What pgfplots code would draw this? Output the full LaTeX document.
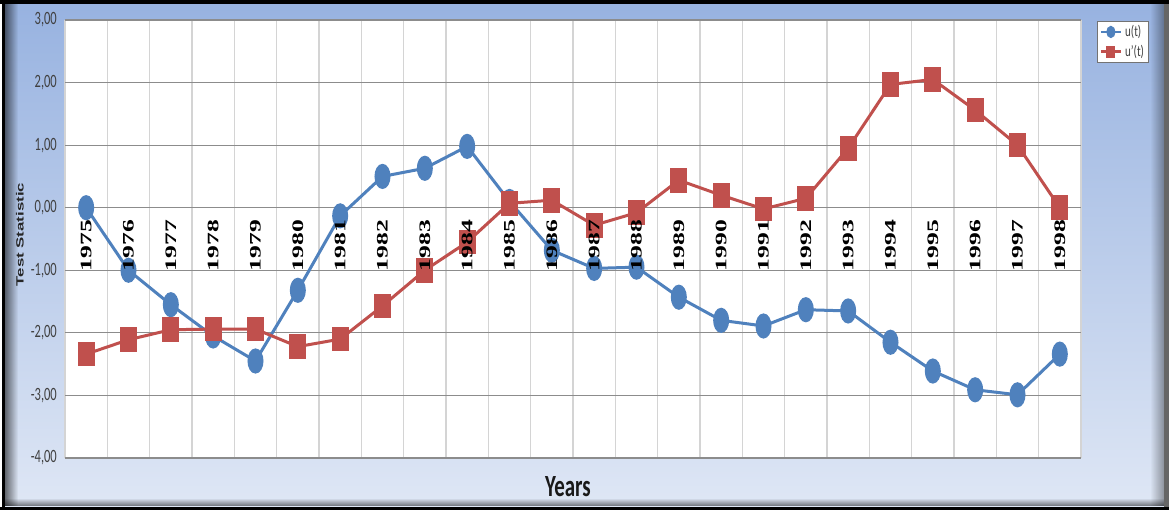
\documentclass[border=0pt]{standalone}
\usepackage{pgfplots}
\pgfplotsset{compat=1.18}
\usepackage{pgfplotstable}
\usepackage{graphicx}
\usepackage{fontspec}
\setmainfont{Carlito}
\newfontfamily\serifb{Liberation Serif}
\newfontfamily\arialf{Liberation Sans}

\definecolor{ublue}{HTML}{4F81BD}
\definecolor{ured}{HTML}{C0504D}
\definecolor{bgtop}{HTML}{97B2E0}
\definecolor{bgbot}{HTML}{DFE7F5}
\definecolor{tickgray}{HTML}{404040}
\definecolor{hgrid}{HTML}{8C8C8C}
\definecolor{vgrid}{HTML}{D4D4D4}

\newcommand\yr[1]{\scalebox{1.6}[1]{\fontsize{16}{16}\selectfont\serifb\bfseries #1}}
\newcommand\yl[1]{\scalebox{1}[1.5]{\fontsize{12.5}{13}\selectfont #1}}

\pgfplotsset{
  common/.style={
    scale only axis,
    width=1016pt, height=438pt,
    at={(65pt,52pt)}, anchor=south west,
    xmin=-0.5, xmax=23.5, ymin=-4, ymax=3,
    axis line style={draw=none},
    major tick length=0pt, minor tick length=0pt,
    clip=false,
  }
}

\pgfplotstableread{
x u up
0  0.00 -2.34
1 -1.00 -2.11
2 -1.55 -1.95
3 -2.05 -1.94
4 -2.45 -1.94
5 -1.32 -2.22
6 -0.13 -2.10
7  0.50 -1.57
8  0.63 -1.00
9  0.98 -0.55
10 0.10  0.07
11 -0.68 0.12
12 -0.97 -0.28
13 -0.95 -0.08
14 -1.43 0.44
15 -1.80 0.20
16 -1.89 -0.02
17 -1.63 0.15
18 -1.65 0.95
19 -2.15 1.97
20 -2.61 2.05
21 -2.91 1.56
22 -2.99 1.00
23 -2.34 0.00
}\datatable

\begin{document}
\begin{tikzpicture}
\shade[top color=bgtop, bottom color=bgbot] (0pt,0pt) rectangle (1169pt,510pt);
% frame and shadows
\foreach \i in {0,...,12}{
  \pgfmathsetmacro\op{0.55*(1-\i/13)}
  \fill[black, opacity=\op] ({(5+\i)*1pt},4pt) rectangle ({(6+\i)*1pt},506pt);
  \fill[black, opacity=\op*0.6] ({(1163-\i)*1pt},4pt) rectangle ({(1164-\i)*1pt},506pt);
}
\foreach \i in {0,...,6}{
  \pgfmathsetmacro\op{0.45*(1-\i/7)}
  \fill[black, opacity=\op] (5pt,{(4+\i)*1pt}) rectangle (1164pt,{(5+\i)*1pt});
}
\fill[white] (0pt,0pt) rectangle (2pt,510pt);
\fill[black] (2pt,0pt) rectangle (5pt,510pt);
\fill[black] (0pt,506pt) rectangle (1169pt,510pt);
\fill[black] (0pt,0pt) rectangle (1169pt,3pt);
\fill[black!60] (1164pt,3pt) rectangle (1169pt,506pt);

\begin{axis}[
  common,
  axis background/.style={fill=white},
  xtick={0,...,23},
  xticklabels={},
  minor xtick={-0.5,0.5,...,23.5},
  xminorgrids,
  minor grid style={draw=vgrid, line width=1.5pt},
  ytick={-4,-3,-2,-1,0,1,2,3},
  yticklabels={{\yl{-4,00}},{\yl{-3,00}},{\yl{-2,00}},{\yl{-1,00}},{\yl{0,00}},{\yl{1,00}},{\yl{2,00}},{\yl{3,00}}},
  yticklabel style={text=tickgray, inner sep=0pt},
  yticklabel shift=8pt,
  ymajorgrids,
  major grid style={draw=hgrid, line width=1.2pt},
  ylabel={\scalebox{1.6}[1]{\arialf\bfseries\fontsize{10.5}{11}\selectfont Test Statistic}},
  ylabel style={at={(axis description cs:-0.0443,0.51)}, anchor=center, rotate=0, text=black!85},
  xlabel={\scalebox{0.95}[1.4]{\fontsize{22}{22}\selectfont\bfseries Years}},
  xlabel style={at={(axis description cs:0.495,-0.066)}, anchor=center, text=black!90},
  legend style={at={(axis description cs:1.0157,0.998)}, anchor=north west,
    draw=black!55, fill=white, inner sep=2.5pt, row sep=3pt,
    font=\fontsize{11}{12}\selectfont, text=tickgray,
    /tikz/every odd column/.append style={column sep=1pt}},
  legend cell align=left,
]
\addplot[ublue, line width=3pt, mark=*, mark size=6.5pt,
  mark options={fill=ublue, draw=ublue, yscale=1.7},
  legend image code/.code={\draw[ublue, line width=2.5pt] (0pt,0pt) -- (20pt,0pt); \fill[ublue] (10pt,0pt) ellipse (3pt and 4.5pt);}]
  table[x=x, y=u] {\datatable};
\addlegendentry{\scalebox{1}[1.4]{u(t)}}
\addplot[ured, line width=3pt, mark=square*, mark size=7pt,
  mark options={fill=ured, draw=ured, yscale=1.55},
  legend image code/.code={\draw[ured, line width=2.5pt] (0pt,0pt) -- (20pt,0pt); \fill[ured] (7pt,-4.5pt) rectangle (13pt,4.5pt);}]
  table[x=x, y=up] {\datatable};
\addlegendentry{\scalebox{1}[1.4]{u'(t)}}
\end{axis}

% overlay axis carrying only the year labels, drawn above the series
\begin{axis}[
  common,
  xtick={0,...,23},
  xticklabels={\yr{1975},\yr{1976},\yr{1977},\yr{1978},\yr{1979},\yr{1980},\yr{1981},\yr{1982},\yr{1983},\yr{1984},\yr{1985},\yr{1986},\yr{1987},\yr{1988},\yr{1989},\yr{1990},\yr{1991},\yr{1992},\yr{1993},\yr{1994},\yr{1995},\yr{1996},\yr{1997},\yr{1998}},
  xticklabel style={rotate=90, anchor=east, inner sep=0pt, text=black},
  xticklabel shift=-238pt,
  ytick=\empty,
]
\end{axis}
\end{tikzpicture}
\end{document}
